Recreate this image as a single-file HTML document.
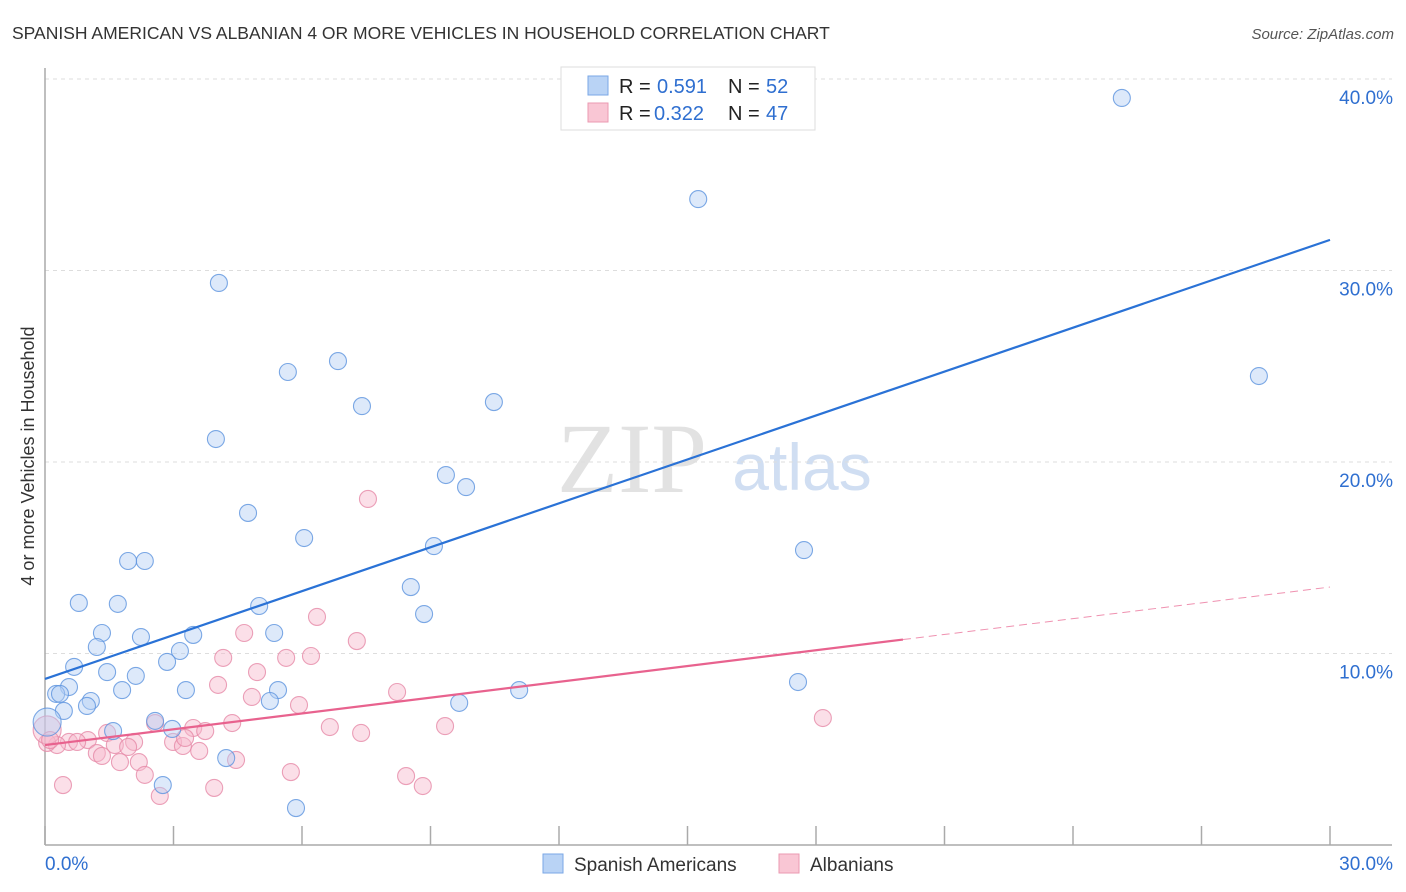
<!DOCTYPE html>
<html><head><meta charset="utf-8"><style>
body{margin:0;background:#fff;font-family:"Liberation Sans",sans-serif;}
svg{display:block}
</style></head><body>
<svg id="chart" width="1406" height="892" font-family="Liberation Sans, sans-serif">
<text x="12" y="39" font-size="17.5" fill="#333">SPANISH AMERICAN VS ALBANIAN 4 OR MORE VEHICLES IN HOUSEHOLD CORRELATION CHART</text>
<text x="1394" y="39" font-size="15" fill="#555" font-style="italic" text-anchor="end">Source: ZipAtlas.com</text>
<text x="34" y="456" font-size="18" fill="#333" text-anchor="middle" transform="rotate(-90 34 456)">4 or more Vehicles in Household</text>
<text x="632" y="492" font-size="100" fill="#e2e2e2" font-family="Liberation Serif, serif" text-anchor="middle">ZIP</text>
<text x="802" y="490" font-size="66" fill="#d0def2" text-anchor="middle">atlas</text>
<g id="grid"></g><g id="axes"></g><g id="pink"></g><g id="blue"></g><g id="lines"></g>
<g>
<rect x="561" y="67" width="254" height="63" fill="#fff" stroke="#ddd"/>
<rect x="588" y="76" width="20" height="19" fill="#b9d3f5" stroke="#7aa7e6"/>
<rect x="588" y="103" width="20" height="19" fill="#f9c6d4" stroke="#eb9ab2"/>
<text y="93" font-size="20"><tspan x="619" fill="#222">R = </tspan><tspan x="657" fill="#2f6fd0">0.591</tspan><tspan x="728" fill="#222">N = </tspan><tspan x="766" fill="#2f6fd0">52</tspan></text>
<text y="120" font-size="20"><tspan x="619" fill="#222">R = </tspan><tspan x="654" fill="#2f6fd0">0.322</tspan><tspan x="728" fill="#222">N = </tspan><tspan x="766" fill="#2f6fd0">47</tspan></text>
</g>
<g>
<rect x="543" y="854" width="20" height="19" fill="#b9d3f5" stroke="#7aa7e6"/>
<text x="574" y="871" font-size="19" fill="#333">Spanish Americans</text>
<rect x="779" y="854" width="20" height="19" fill="#f9c6d4" stroke="#eb9ab2"/>
<text x="810" y="871" font-size="19" fill="#333">Albanians</text>
</g>
</svg>
<script>
const blueX=[25.14,15.25,4.06,6.84,5.67,7.40,10.48,3.99,28.34,9.36,9.83,4.74,6.05,9.08,17.72,1.94,2.33,8.54,8.85,0.79,1.70,5.00,1.33,2.24,3.46,5.35,1.21,3.15,0.68,2.85,1.45,2.12,0.56,0.26,0.35,1.80,3.29,5.44,1.07,0.98,5.25,9.67,11.07,17.58,0.44,1.59,2.57,2.97,4.23,2.75,5.86,0.05];
const blueY=[39.01,33.73,29.35,25.27,24.70,22.92,23.13,21.20,24.49,19.32,18.69,17.34,16.03,15.61,15.40,14.83,14.83,13.47,12.06,12.64,12.59,12.48,11.07,10.86,10.97,11.07,10.34,10.13,9.30,9.56,9.03,8.83,8.25,7.89,7.89,8.09,8.09,8.09,7.52,7.26,7.52,7.42,8.09,8.51,7.00,5.95,6.48,6.06,4.54,3.13,1.93,6.42];
const pinkX=[7.54,6.35,4.65,7.28,4.16,6.21,5.63,4.95,4.04,8.22,4.83,5.93,4.37,3.46,3.74,2.57,6.65,7.38,9.34,18.16,1.45,1.00,1.63,2.08,0.56,0.75,0.28,0.05,2.99,3.22,3.60,1.21,1.94,1.33,1.75,2.19,4.46,2.33,5.74,8.43,0.42,2.68,3.95,8.82,0.05,0.12,3.27];
const pinkY=[18.07,11.91,11.07,10.65,9.77,9.87,9.77,9.03,8.36,7.99,7.73,7.31,6.37,6.11,5.95,6.37,6.16,5.85,6.21,6.63,5.85,5.48,5.22,5.38,5.38,5.38,5.22,5.33,5.38,5.17,4.91,4.80,5.12,4.65,4.33,4.33,4.44,3.66,3.81,3.60,3.13,2.56,2.98,3.08,6.01,5.48,5.59];
const blueLine=[8.67,31.6];
const pinkLine=[5.22,13.47];
const pinkSolidEnd=20.03;
const yTicks=[10,20,30,40];
const xTicks=[0,3,6,9,12,15,18,21,24,27,30];
const NS="http://www.w3.org/2000/svg";
const sx=v=>45+v/30*1285;
const sy=v=>845-v*19.15;
function mk(tag,attrs,parent){const e=document.createElementNS(NS,tag);for(const k in attrs)e.setAttribute(k,attrs[k]);document.getElementById(parent).appendChild(e);return e;}
yTicks.forEach(t=>{
 const l=mk('line',{x1:45,x2:1392,y1:sy(t),y2:sy(t),stroke:'#ddd','stroke-dasharray':'4,4'},'grid');
 
 
 const tx=mk('text',{x:1393,y:sy(t)+25,'font-size':19,fill:'#2f6fd0','text-anchor':'end'},'grid');
 tx.textContent=t.toFixed(1)+'%';
 
 
});
mk('line',{x1:45,x2:45,y1:68,y2:845,stroke:'#aaa','stroke-width':1.5},'axes');
mk('line',{x1:45,x2:1392,y1:845,y2:845,stroke:'#aaa','stroke-width':1.5},'axes');
xTicks.forEach(t=>{
 const l=mk('line',{x1:sx(t),x2:sx(t),y1:826,y2:845,stroke:'#aaa','stroke-width':1.5},'axes');
 
 
});
const xl0=mk('text',{x:45,y:870,'font-size':19,fill:'#2f6fd0'},'axes');xl0.textContent='0.0%';


const xl1=mk('text',{x:1393,y:870,'font-size':19,fill:'#2f6fd0','text-anchor':'end'},'axes');xl1.textContent='30.0%';


function dots(X,Y,g,fill,stroke,name){
 X.forEach((x,i)=>{
  const big=(i===X.length-1&&name==='blue-point')||(i===44&&name==='pink-point');
  const c=mk('circle',{cx:sx(x),cy:sy(Y[i]),r:big?14:8.5,fill:fill,'fill-opacity':0.45,stroke:stroke,'stroke-opacity':0.8,'stroke-width':1.1},g);
  
  
 });
}
dots(pinkX,pinkY,'pink','#f7b8cb','#e68aa8','pink-point');
dots(blueX,blueY,'blue','#b4cff3','#5d93de','blue-point');
const bl=mk('line',{x1:sx(0),y1:sy(blueLine[0]),x2:sx(30),y2:sy(blueLine[1]),stroke:'#2a72d6','stroke-width':2.2},'lines');


const pAt=x=>pinkLine[0]+(pinkLine[1]-pinkLine[0])*x/30;
const pl=mk('line',{x1:sx(0),y1:sy(pAt(0)),x2:sx(pinkSolidEnd),y2:sy(pAt(pinkSolidEnd)),stroke:'#e8628e','stroke-width':2.2},'lines');


const pd=mk('line',{x1:sx(pinkSolidEnd),y1:sy(pAt(pinkSolidEnd)),x2:sx(30),y2:sy(pAt(30)),stroke:'#e8628e','stroke-width':1,'stroke-dasharray':'8,5','stroke-opacity':0.7},'lines');


</script>
</body></html>
